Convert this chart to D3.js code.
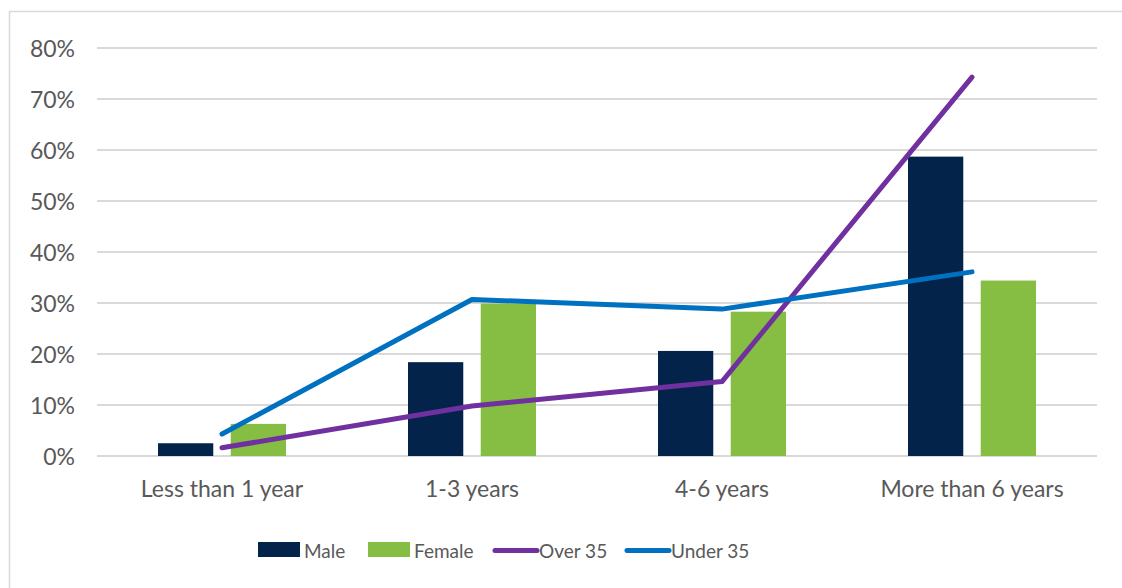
<!DOCTYPE html>
<meta charset="utf-8">
<style>
body { margin: 0; background: #fff; }
text { font-family: Lato, "Open Sans", sans-serif; fill: #595959; }
</style>
<body>
<div class="chart"></div>
</body>
<script src="https://cdn.jsdelivr.net/npm/d3@7"></script>
<script>

var categories = ["Less than 1 year", "1-3 years", "4-6 years", "More than 6 years"];
var male = [2.5, 18.4, 20.6, 58.7];
var female = [6.3, 29.9, 28.3, 34.4];
var over35 = [1.6, 9.8, 14.6, 74.3];
var under35 = [4.3, 30.7, 28.8, 36.1];
var yTicks = [0, 10, 20, 30, 40, 50, 60, 70, 80];

var width = 1122, height = 588;
var margin = {top: 48, right: 25, bottom: 132, left: 97};

var svg = d3.select(".chart").append("svg")
    .attr("width", width)
    .attr("height", height);

// chart border
svg.append("rect")
    .attr("x", 9.5).attr("y", 11.5)
    .attr("width", 1130).attr("height", 600)
    .attr("fill", "none")
    .attr("stroke", "#d9d9d9")
    .attr("stroke-width", 1.5);

var x = d3.scaleBand()
    .domain(categories)
    .range([margin.left, width - margin.right]);

var xInner = d3.scaleBand()
    .domain(["Male", "Female"])
    .range([-64, 64])
    .paddingInner(0.24);

var y = d3.scaleLinear()
    .domain([0, 80])
    .range([height - margin.bottom, margin.top]);

// gridlines
svg.append("g").selectAll("line")
    .data(yTicks)
    .enter().append("line")
    .attr("x1", margin.left)
    .attr("x2", width - margin.right)
    .attr("y1", function(d) { return y(d); })
    .attr("y2", function(d) { return y(d); })
    .attr("stroke", "#d9d9d9")
    .attr("stroke-width", 2);

// y labels
svg.append("g").selectAll("text")
    .data(yTicks)
    .enter().append("text")
    .attr("x", 75)
    .attr("y", function(d) { return y(d); })
    .attr("dy", "0.4em")
    .attr("text-anchor", "end")
    .style("font-size", "23px")
    .text(function(d) { return d + "%"; });

// x labels
svg.append("g").selectAll("text")
    .data(categories)
    .enter().append("text")
    .attr("x", function(d) { return x(d) + x.bandwidth() / 2; })
    .attr("y", 497)
    .attr("text-anchor", "middle")
    .style("font-size", "23px")
    .text(function(d) { return d; });

var series = [
    {name: "Male", values: male, color: "#03234b"},
    {name: "Female", values: female, color: "#85be42"}
];

series.forEach(function(s) {
    svg.append("g").selectAll("rect")
        .data(s.values)
        .enter().append("rect")
        .attr("x", function(d, i) { return x(categories[i]) + x.bandwidth() / 2 + xInner(s.name); })
        .attr("width", xInner.bandwidth())
        .attr("y", function(d) { return y(d); })
        .attr("height", function(d) { return y(0) - y(d); })
        .attr("fill", s.color);
});

var lines = [
    {name: "Over 35", values: over35, color: "#7030a0"},
    {name: "Under 35", values: under35, color: "#0070c0"}
];

var line = d3.line()
    .x(function(d, i) { return x(categories[i]) + x.bandwidth() / 2; })
    .y(function(d) { return y(d); });

lines.forEach(function(l) {
    svg.append("path")
        .datum(l.values)
        .attr("d", line)
        .attr("fill", "none")
        .attr("stroke", l.color)
        .attr("stroke-width", 5)
        .attr("stroke-linecap", "round")
        .attr("stroke-linejoin", "round");
});

// legend
var legend = svg.append("g");
var legendItems = [
    {name: "Male", color: "#03234b", type: "rect", x: 258},
    {name: "Female", color: "#85be42", type: "rect", x: 368},
    {name: "Over 35", color: "#7030a0", type: "line", x: 493},
    {name: "Under 35", color: "#0070c0", type: "line", x: 625}
];
legendItems.forEach(function(d) {
    if (d.type === "rect") {
        legend.append("rect")
            .attr("x", d.x).attr("y", 542)
            .attr("width", 42).attr("height", 15)
            .attr("fill", d.color);
    } else {
        legend.append("line")
            .attr("x1", d.x + 2).attr("x2", d.x + 44)
            .attr("y1", 550.5).attr("y2", 550.5)
            .attr("stroke", d.color)
            .attr("stroke-width", 5)
            .attr("stroke-linecap", "round");
    }
    legend.append("text")
        .attr("x", d.x + 46)
        .attr("y", 558)
        .style("font-size", "19px")
        .text(d.name);
});

</script>
